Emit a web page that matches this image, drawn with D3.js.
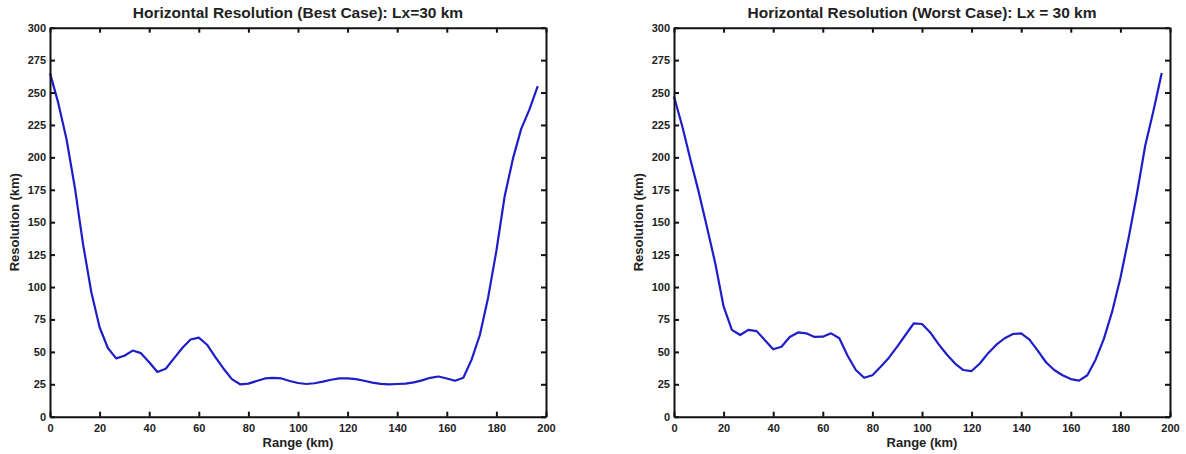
<!DOCTYPE html>
<html>
<head>
<meta charset="utf-8">
<script src="https://cdn.jsdelivr.net/npm/d3@7"></script>
<style>
  html, body { margin: 0; padding: 0; background: #fff; }
  svg { display: block; font-family: "Liberation Sans", Arial, sans-serif; }
</style>
</head>
<body>
<svg id="chart" width="1186" height="454"></svg>
<script>
// ---- data ----
const rangeKm = [0, 3.33, 6.67, 10, 13.33, 16.67, 20, 23.33, 26.67, 30, 33.33, 36.67, 40, 43.33, 46.67, 50,
  53.33, 56.67, 60, 63.33, 66.67, 70, 73.33, 76.67, 80, 83.33, 86.67, 90, 93.33, 96.67, 100, 103.33,
  106.67, 110, 113.33, 116.67, 120, 123.33, 126.67, 130, 133.33, 136.67, 140, 143.33, 146.67, 150,
  153.33, 156.67, 160, 163.33, 166.67, 170, 173.33, 176.67, 180, 183.33, 186.67, 190, 193.33, 196.67];

const bestCase = [265, 242, 214, 177, 133, 96, 69, 53, 45, 47, 51, 49, 42, 34.5, 37, 45,
  53, 59.5, 61, 55.5, 46, 37, 29, 25, 25.5, 27.5, 29.5, 30, 29.5, 27.5, 26, 25.2,
  25.8, 27, 28.5, 29.5, 29.6, 29, 27.7, 26.3, 25.3, 25, 25.2, 25.5, 26.5, 28,
  30, 31, 29.5, 27.7, 30, 44, 63, 92, 128, 170, 199, 222, 237, 255];

const worstCase = [247, 224, 198, 173, 146, 118, 85, 67, 63, 67, 66, 59, 52, 54, 61.5, 65,
  64.3, 61.5, 61.7, 64.3, 60.5, 47, 36, 30, 32, 38.5, 45.5, 54, 63, 72, 71.5, 65,
  56, 48, 41, 36, 35.2, 41, 49, 55.5, 60.5, 63.8, 64.3, 59.5, 51, 42,
  36, 32, 29, 27.8, 32, 44, 60, 81, 107, 138, 172, 209, 236, 265];

const xTicks = [0, 20, 40, 60, 80, 100, 120, 140, 160, 180, 200];
const yTicks = [0, 25, 50, 75, 100, 125, 150, 175, 200, 225, 250, 275, 300];

const titles = ["Horizontal Resolution (Best Case): Lx=30 km", "Horizontal Resolution (Worst Case): Lx = 30 km"];
const xLabel = "Range (km)";
const yLabel = "Resolution (km)";

// ---- layout ----
const svg = d3.select("#chart");
const panels = [
  { left: 50, right: 546, values: bestCase, title: titles[0] },
  { left: 674, right: 1170, values: worstCase, title: titles[1] }
];
const plotTop = 27.7, plotBottom = 416.7;
const tickLen = 5;

panels.forEach(p => {
  const x = d3.scaleLinear().domain([0, 200]).range([p.left, p.right]);
  const y = d3.scaleLinear().domain([0, 300]).range([plotBottom, plotTop]);
  const g = svg.append("g");

  // line
  const line = d3.line().x((d, i) => x(rangeKm[i])).y(d => y(d));
  g.append("path")
    .datum(p.values)
    .attr("d", line)
    .attr("fill", "none")
    .attr("stroke", "#1e1ec8")
    .attr("stroke-width", 2.2)
    .attr("stroke-linejoin", "round");

  // axes
  const styleAxis = sel => {
    sel.select(".domain").attr("stroke", "#111").attr("stroke-width", 2);
    sel.selectAll(".tick line").attr("stroke", "#111").attr("stroke-width", 2);
    sel.selectAll(".tick text").attr("fill", "#222").attr("font-size", "11px").attr("font-weight", "bold")
      .attr("font-family", "'Liberation Sans', Arial, sans-serif");
  };

  g.append("g").attr("transform", `translate(0,${plotBottom})`)
    .call(d3.axisBottom(x).tickValues(xTicks).tickSize(-tickLen).tickSizeOuter(0).tickPadding(8).tickFormat(d3.format("d")))
    .call(styleAxis);
  g.append("g").attr("transform", `translate(0,${plotTop})`)
    .call(d3.axisTop(x).tickValues(xTicks).tickSize(-tickLen).tickSizeOuter(0).tickFormat(""))
    .call(styleAxis);
  g.append("g").attr("transform", `translate(${p.left},0)`)
    .call(d3.axisLeft(y).tickValues(yTicks).tickSize(-tickLen).tickSizeOuter(0).tickPadding(4).tickFormat(d3.format("d")))
    .call(styleAxis);
  g.append("g").attr("transform", `translate(${p.right},0)`)
    .call(d3.axisRight(y).tickValues(yTicks).tickSize(-tickLen).tickSizeOuter(0).tickFormat(""))
    .call(styleAxis);

  // title
  g.append("text")
    .attr("x", (p.left + p.right) / 2).attr("y", 18)
    .attr("text-anchor", "middle")
    .attr("font-size", "15.5px").attr("font-weight", "bold").attr("fill", "#222")
    .text(p.title);

  // x label
  g.append("text")
    .attr("x", (p.left + p.right) / 2).attr("y", 447)
    .attr("text-anchor", "middle")
    .attr("font-size", "13px").attr("font-weight", "bold").attr("fill", "#222")
    .text(xLabel);

  // y label
  g.append("text")
    .attr("transform", `translate(${p.left - 31},${(plotTop + plotBottom) / 2}) rotate(-90)`)
    .attr("text-anchor", "middle")
    .attr("font-size", "13px").attr("font-weight", "bold").attr("fill", "#222")
    .text(yLabel);
});
</script>
</body>
</html>
